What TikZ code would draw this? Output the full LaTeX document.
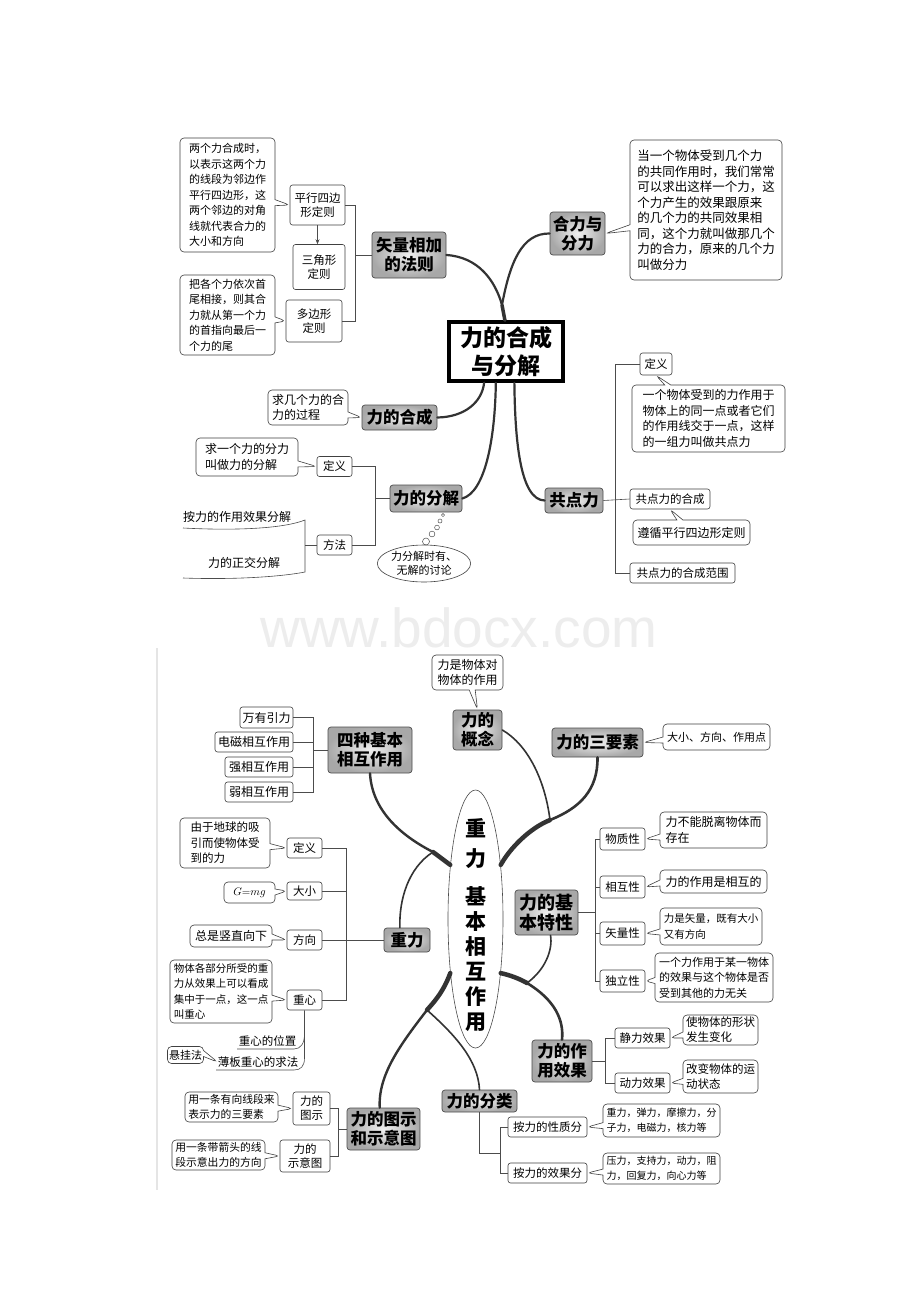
\documentclass[tikz,border=0pt]{standalone}
\usepackage{fontspec}
\newfontfamily\cjk{Noto Sans CJK SC}
\newfontfamily\wmfont{Liberation Sans}
\usetikzlibrary{shapes.callouts,shapes.geometric,arrows.meta}
\begin{document}
\begin{tikzpicture}[x=1pt,y=-1pt,
 box/.style={draw=black!75, line width=0.6pt, rounded corners=2.5pt, fill=white, align=center, inner sep=1pt, font=\cjk\fontsize{11.5}{14}\selectfont},
 head/.style={draw=black!70, line width=0.7pt, rounded corners=3pt, inner color=gray!12, outer color=gray!68, align=center, inner sep=1pt, font=\cjk\bfseries\fontsize{16.5}{19}\selectfont},
 note/.style={rectangle callout, draw=black!75, line width=0.6pt, rounded corners=4pt, fill=white, align=left, inner sep=2pt, font=\cjk\fontsize{11}{15.5}\selectfont, callout pointer width=6pt},
 link/.style={draw=black!70, line width=0.6pt},
 trunk/.style={draw=black!80, line width=4.5pt, line cap=round},
 twig/.style={draw=black!80, line width=1.6pt, line cap=round},
 txt/.style={inner sep=0pt, font=\cjk\fontsize{12}{14}\selectfont}
]
\fill[white] (0,0) rectangle (920,1302);
\useasboundingbox (0,0) rectangle (920,1302);

% watermark
\node[font=\wmfont\fontsize{55}{60}\selectfont, text=gray!14, anchor=base, inner sep=0pt] (wm) at (459,647) {www.bdocx.com};
\draw[gray!20, line width=1.5pt] (157,648) -- (157,1190);

% ================= TOP =================
\node[box, minimum width=55pt, minimum height=40pt] (pxsb) at (317.5,205) {平行四边\\形定则};
\node[box, minimum width=52pt, minimum height=45pt] (sjx) at (319,267) {三角形\\定则};
\node[box, minimum width=56pt, minimum height=42pt] (dbx) at (314,321) {多边形\\定则};
\node[head, minimum width=74pt, minimum height=46pt] (sl) at (409,255) {矢量相加\\的法则};
\node[head, minimum width=55pt, minimum height=43pt] (hlfl) at (577.5,233.5) {合力与\\分力};
\node[draw=black, line width=3.5pt, fill=white, minimum width=114pt, minimum height=59pt, align=center, font=\cjk\bfseries\fontsize{23}{28}\selectfont] (ctr) at (506,351.5) {力的合成\\与分解};
\node[head, minimum width=75pt, minimum height=25pt] (hc) at (399.5,417.5) {力的合成};
\node[box, minimum width=35pt, minimum height=20pt] (dy1) at (334.5,466.5) {定义};
\node[head, minimum width=72pt, minimum height=27pt] (fj) at (426,498.5) {力的分解};
\node[box, minimum width=35pt, minimum height=20pt] (ff) at (334.5,545) {方法};
\node[ellipse, draw=black!75, line width=0.6pt, fill=white, minimum width=92pt, minimum height=37pt, inner sep=0pt, align=center, font=\cjk\fontsize{11}{14}\selectfont] (bub) at (424,563.5) {力分解时有、\\无解的讨论};
\node[head, minimum width=58pt, minimum height=25pt] (gdl) at (574,500.5) {共点力};
\node[box, minimum width=32pt, minimum height=22pt] (dy2) at (656,364) {定义};
\node[box, minimum width=80pt, minimum height=20pt] (gdlhc) at (670,499) {共点力的合成};
\node[box, minimum width=105pt, minimum height=20pt] (gdlfw) at (682.5,573) {共点力的合成范围};

\node[note, minimum width=95pt, minimum height=114pt, callout absolute pointer={(pxsb.west)}] (cA) at (227.5,195) {两个力合成时，\\以表示这两个力\\的线段为邻边作\\平行四边形，这\\两个邻边的对角\\线就代表合力的\\大小和方向};
\node[note, minimum width=95pt, minimum height=80pt, callout absolute pointer={(dbx.west)}] (cB) at (227.5,315) {把各个力依次首\\尾相接，则其合\\力就从第一个力\\的首指向最后一\\个力的尾};
\node[note, minimum width=152pt, minimum height=140pt, font=\cjk\fontsize{12.5}{15.5}\selectfont, callout absolute pointer={(hlfl.east)}] (cC) at (706,210) {当一个物体受到几个力\\的共同作用时，我们常常\\可以求出这样一个力，这\\个力产生的效果跟原来\\的几个力的共同效果相\\同，这个力就叫做那几个\\力的合力，原来的几个力\\叫做分力};
\node[note, minimum width=80pt, minimum height=35pt, font=\cjk\fontsize{12}{15}\selectfont, callout absolute pointer={(hc.west)}] (cD) at (308,407.5) {求几个力的合\\力的过程};
\node[note, minimum width=102pt, minimum height=38pt, font=\cjk\fontsize{12}{15.5}\selectfont, callout absolute pointer={(dy1.west)}] (cE) at (247,457) {求一个力的分力\\叫做力的分解};
\node[note, minimum width=153pt, minimum height=67pt, font=\cjk\fontsize{12}{15.5}\selectfont, callout absolute pointer={(dy2.south)}] (cF) at (708.5,418.5) {一个物体受到的力作用于\\物体上的同一点或者它们\\的作用线交于一点，这样\\的一组力叫做共点力};
\node[note, minimum width=117pt, minimum height=25pt, font=\cjk\fontsize{12}{15}\selectfont, callout absolute pointer={(gdlhc.south)}] (cG) at (691.5,532.5) {遵循平行四边形定则};

\node[txt] (t1) at (237,517) {按力的作用效果分解};
\node[txt] (t2) at (244,563) {力的正交分解};
\coordinate (w1) at (183,528);
\coordinate (w2) at (305,520);
\coordinate (w3) at (305,572);
\coordinate (w4) at (183,578);
\coordinate (w5) at (305,545);
\draw[link] (w1) .. controls (240,531) and (285,528) .. (w2) -- (w3) .. controls (285,576) and (240,580) .. (w4);
\draw[link] (w5) -- (ff.west);

\foreach \x/\y/\r in {443/515/1.6, 440/521/2, 437/527.5/2.4, 432/534/2.9, 426/541.5/3.5}
  \draw[black!70, line width=0.5pt] (\x,\y) circle (\r pt);

% brackets top
\coordinate (b1) at (355,255);
\draw[link] (pxsb.east) -| (b1);
\draw[link] (dbx.east) -| (b1);
\draw[link] (b1) -- (sl.west);
\draw[link, -{Stealth[length=5pt,width=4pt]}] (pxsb.south) -- (pxsb.south |- sjx.north);
\coordinate (b2) at (375,498.5);
\draw[link] (dy1.east) -| (b2);
\draw[link] (ff.east) -| (b2);
\draw[link] (b2) -- (fj.west);
\coordinate (b3) at (615,500);
\draw[link] (dy2.west) -| (b3);
\draw[link] (gdlfw.west) -| (b3);
\draw[link] (gdl.east) -- (gdlhc.west);

% branches top
\coordinate (tk1) at (502,305);
\draw[trunk, line width=3.5pt] (ctr.92) -- (tk1);
\draw[twig, line width=2.2pt] (tk1) .. controls (495,280) and (478,257) .. (sl.east);
\draw[twig, line width=2.2pt] (tk1) .. controls (510,262) and (522,233) .. (hlfl.west);
\draw[twig, line width=2.2pt] (ctr.-125) .. controls (482,402) and (465,417) .. (hc.east);
\draw[twig, line width=2.2pt] (ctr.-108) .. controls (495,440) and (485,492) .. (fj.east);
\draw[twig, line width=2.2pt] (ctr.-75) .. controls (515,440) and (520,500) .. (gdl.west);

% ================= BOTTOM =================
\node[head, minimum width=49pt, minimum height=40pt] (gnc) at (477.5,730) {力的\\概念};
\node[head, minimum width=91pt, minimum height=29pt] (sys) at (597.5,742.5) {力的三要素};
\node[head, minimum width=84pt, minimum height=46pt] (szjb) at (370,750) {四种基本\\相互作用};
\node[box, font=\cjk\fontsize{12}{14}\selectfont, minimum width=53pt, minimum height=21pt] (wy) at (266.5,717.5) {万有引力};
\node[box, font=\cjk\fontsize{12}{14}\selectfont, minimum width=78pt, minimum height=20pt] (dc) at (254,742) {电磁相互作用};
\node[box, font=\cjk\fontsize{12}{14}\selectfont, minimum width=68pt, minimum height=20pt] (qx) at (259,767) {强相互作用};
\node[box, font=\cjk\fontsize{12}{14}\selectfont, minimum width=68pt, minimum height=20pt] (rx) at (259,792) {弱相互作用};
\node[head, minimum width=46pt, minimum height=24pt] (zl) at (407,940) {重力};
\node[box, minimum width=35pt, minimum height=20pt] (dy3) at (304.5,848) {定义};
\node[box, minimum width=35pt, minimum height=18pt] (dx) at (304.5,891) {大小};
\node[box, minimum width=35pt, minimum height=20pt] (fx) at (304.5,940) {方向};
\node[box, minimum width=35pt, minimum height=20pt] (zx) at (304.5,1000) {重心};
\node[head, minimum width=63pt, minimum height=45pt, font=\cjk\bfseries\fontsize{18}{20}\selectfont] (jbtx) at (546.5,912.5) {力的基\\本特性};
\node[box, minimum width=45pt, minimum height=22pt] (wzx) at (622.5,839) {物质性};
\node[box, minimum width=45pt, minimum height=22pt] (xhx) at (622.5,887) {相互性};
\node[box, minimum width=45pt, minimum height=23pt] (slx) at (622.5,933.5) {矢量性};
\node[box, minimum width=45pt, minimum height=22pt] (dlx) at (622.5,981) {独立性};
\node[head, minimum width=60pt, minimum height=42pt] (zyxg) at (562,1061) {力的作\\用效果};
\node[box, minimum width=55pt, minimum height=20pt] (jlxg) at (642.5,1038) {静力效果};
\node[box, minimum width=55pt, minimum height=20pt] (dlxg) at (642.5,1083) {动力效果};
\node[head, minimum width=75pt, minimum height=22pt] (fl) at (479.5,1101) {力的分类};
\node[box, minimum width=79pt, minimum height=20pt] (xzf) at (547.5,1127) {按力的性质分};
\node[box, minimum width=79pt, minimum height=20pt] (xgf) at (547.5,1173) {按力的效果分};
\node[head, minimum width=73pt, minimum height=42pt] (tsy) at (383.5,1129) {力的图示\\和示意图};
\node[box, minimum width=37pt, minimum height=33pt] (ts) at (311.5,1108.5) {力的\\图示};
\node[box, minimum width=50pt, minimum height=32pt] (syt) at (305,1156) {力的\\示意图};

\node[ellipse, draw=black!70, line width=0.6pt, fill=white, minimum width=55pt, minimum height=258pt, inner sep=0pt] (ov) at (475.5,919) {};
\node[font=\cjk\bfseries\fontsize{21}{25}\selectfont, align=center, inner sep=0pt] (ovt) at (475.5,925) {重\\[5pt]力\\[13pt]基\\本\\相\\互\\作\\用};

\node[note, minimum width=71pt, minimum height=35pt, font=\cjk\fontsize{12}{15}\selectfont, callout absolute pointer={(gnc.north)}] (cH) at (467.5,672.5) {力是物体对\\物体的作用};
\node[note, minimum width=107pt, minimum height=26pt, font=\cjk\fontsize{11}{14}\selectfont, callout absolute pointer={(sys.east)}] (cI) at (716.5,737) {大小、方向、作用点};
\node[note, minimum width=90pt, minimum height=50pt, font=\cjk\fontsize{11.5}{15.5}\selectfont, callout absolute pointer={(dy3.west)}] (cJ) at (225,843) {由于地球的吸\\引而使物体受\\到的力};
\node[note, minimum width=51pt, minimum height=21pt, align=center, callout absolute pointer={(dx.west)}] (cK) at (249.5,892.5) {$G{=}mg$};
\node[note, minimum width=82pt, minimum height=22pt, font=\cjk\fontsize{12}{14}\selectfont, callout absolute pointer={(fx.west)}] (cL) at (231,936) {总是竖直向下};
\node[note, minimum width=102pt, minimum height=63pt, font=\cjk\fontsize{10.5}{15.5}\selectfont, callout absolute pointer={(zx.west)}] (cM) at (221,991.5) {物体各部分所受的重\\力从效果上可以看成\\集中于一点，这一点\\叫重心};

\node[txt, font=\cjk\fontsize{11.5}{14}\selectfont] (t3) at (267.5,1041) {重心的位置};
\node[txt, font=\cjk\fontsize{11.5}{14}\selectfont] (t4) at (258,1062) {薄板重心的求法};
\node[note, minimum width=36pt, minimum height=17pt, inner sep=1pt, callout absolute pointer={(t4.west)}] (cN) at (185.5,1055) {悬挂法};
\coordinate (u1) at (237,1049);
\coordinate (u2) at (216,1070);
\draw[link] (zx.south) -- (304.5,1058) .. controls (304.5,1066) and (301,1070) .. (294,1070) -- (u2);
\draw[link] (304.5,1034) .. controls (304.5,1043) and (301,1049) .. (294,1049) -- (u1);

\node[note, minimum width=107pt, minimum height=36pt, font=\cjk\fontsize{12}{16}\selectfont, callout absolute pointer={(wzx.east)}] (cO) at (713.5,830) {力不能脱离物体而\\存在};
\node[note, minimum width=107pt, minimum height=23pt, font=\cjk\fontsize{12}{14}\selectfont, callout absolute pointer={(xhx.east)}] (cP) at (713.5,881.5) {力的作用是相互的};
\node[note, minimum width=102pt, minimum height=37pt, font=\cjk\fontsize{10.5}{16}\selectfont, callout absolute pointer={(slx.east)}] (cQ) at (711,926.5) {力是矢量，既有大小\\又有方向};
\node[note, minimum width=118pt, minimum height=49pt, font=\cjk\fontsize{11}{15.5}\selectfont, callout absolute pointer={(dlx.east)}] (cR) at (714,977.5) {一个力作用于某一物体\\的效果与这个物体是否\\受到其他的力无关};
\node[note, minimum width=75pt, minimum height=30pt, font=\cjk\fontsize{11.5}{15}\selectfont, callout absolute pointer={(jlxg.east)}] (cS) at (720.5,1030) {使物体的形状\\发生变化};
\node[note, minimum width=75pt, minimum height=33pt, font=\cjk\fontsize{11.5}{15}\selectfont, callout absolute pointer={(dlxg.east)}] (cT) at (720.5,1076.5) {改变物体的运\\动状态};
\node[note, minimum width=117pt, minimum height=33pt, font=\cjk\fontsize{10}{14.5}\selectfont, callout absolute pointer={(xzf.east)}] (cU) at (661.5,1120.5) {重力，弹力，摩擦力，分\\子力，电磁力，核力等};
\node[note, minimum width=117pt, minimum height=31pt, font=\cjk\fontsize{10}{14.5}\selectfont, callout absolute pointer={(xgf.east)}] (cV) at (661.5,1168.5) {压力，支持力，动力，阻\\力，回复力，向心力等};
\node[note, minimum width=93pt, minimum height=30pt, font=\cjk\fontsize{10.8}{15}\selectfont, callout absolute pointer={(ts.west)}] (cW) at (231.5,1107) {用一条有向线段来\\表示力的三要素};
\node[note, minimum width=93pt, minimum height=30pt, font=\cjk\fontsize{10.8}{15}\selectfont, callout absolute pointer={(syt.west)}] (cX) at (218.5,1155) {用一条带箭头的线\\段示意出力的方向};

% brackets bottom
\coordinate (b4) at (313,750);
\draw[link] (wy.east) -| (b4);
\draw[link] (rx.east) -| (b4);
\draw[link] (dc.east) -- (dc.east -| b4);
\draw[link] (qx.east) -- (qx.east -| b4);
\draw[link] (b4) -- (szjb.west);
\coordinate (b5) at (346,940);
\draw[link] (dy3.east) -| (b5);
\draw[link] (zx.east) -| (b5);
\draw[link] (dx.east) -- (dx.east -| b5);
\draw[link] (fx.east) -- (zl.west);
\coordinate (b6) at (595,912.5);
\draw[link] (wzx.west) -| (b6);
\draw[link] (dlx.west) -| (b6);
\draw[link] (xhx.west) -- (xhx.west -| b6);
\draw[link] (slx.west) -- (slx.west -| b6);
\draw[link] (b6) -- (jbtx.east);
\coordinate (b7) at (605,1061);
\draw[link] (jlxg.west) -| (b7);
\draw[link] (dlxg.west) -| (b7);
\draw[link] (b7) -- (zyxg.east);
\coordinate (b8) at (500,1153);
\draw[link] (fl.south) |- (b8);
\draw[link] (xzf.west) -| (b8);
\draw[link] (xgf.west) -| (b8);
\coordinate (b9) at (338,1129);
\draw[link] (ts.east) -| (b9);
\draw[link] (syt.east) -| (b9);
\draw[link] (b9) -- (tsy.west);

% branches bottom
\coordinate (p1) at (433,852);
\draw[twig, line width=2.4pt] (szjb.south) .. controls (372,810) and (400,835) .. (p1);
\draw[trunk] (p1) -- (ov.115);
\draw[twig] (p1) .. controls (408,868) and (399,900) .. (zl.120);
\coordinate (p2) at (550,820);
\draw[trunk] (ov.65) .. controls (510,848) and (530,828) .. (p2);
\draw[twig] (p2) .. controls (545,780) and (528,745) .. (gnc.east);
\draw[twig, line width=2.6pt] (p2) .. controls (580,808) and (598,790) .. (sys.south);
\coordinate (p3) at (527,983);
\draw[trunk] (ov.-65) .. controls (510,975) and (520,979) .. (p3);
\draw[twig] (p3) .. controls (545,970) and (553,950) .. (jbtx.-80);
\draw[twig, line width=2.6pt] (p3) .. controls (555,1000) and (564,1020) .. (zyxg.north);
\coordinate (p4) at (427,1010);
\draw[trunk] (ov.-115) .. controls (443,993) and (433,1003) .. (p4);
\draw[twig, line width=2.4pt] (p4) .. controls (400,1045) and (378,1075) .. (tsy.100);
\draw[twig] (p4) .. controls (455,1035) and (478,1060) .. (fl.north);
\end{tikzpicture}
\end{document}
